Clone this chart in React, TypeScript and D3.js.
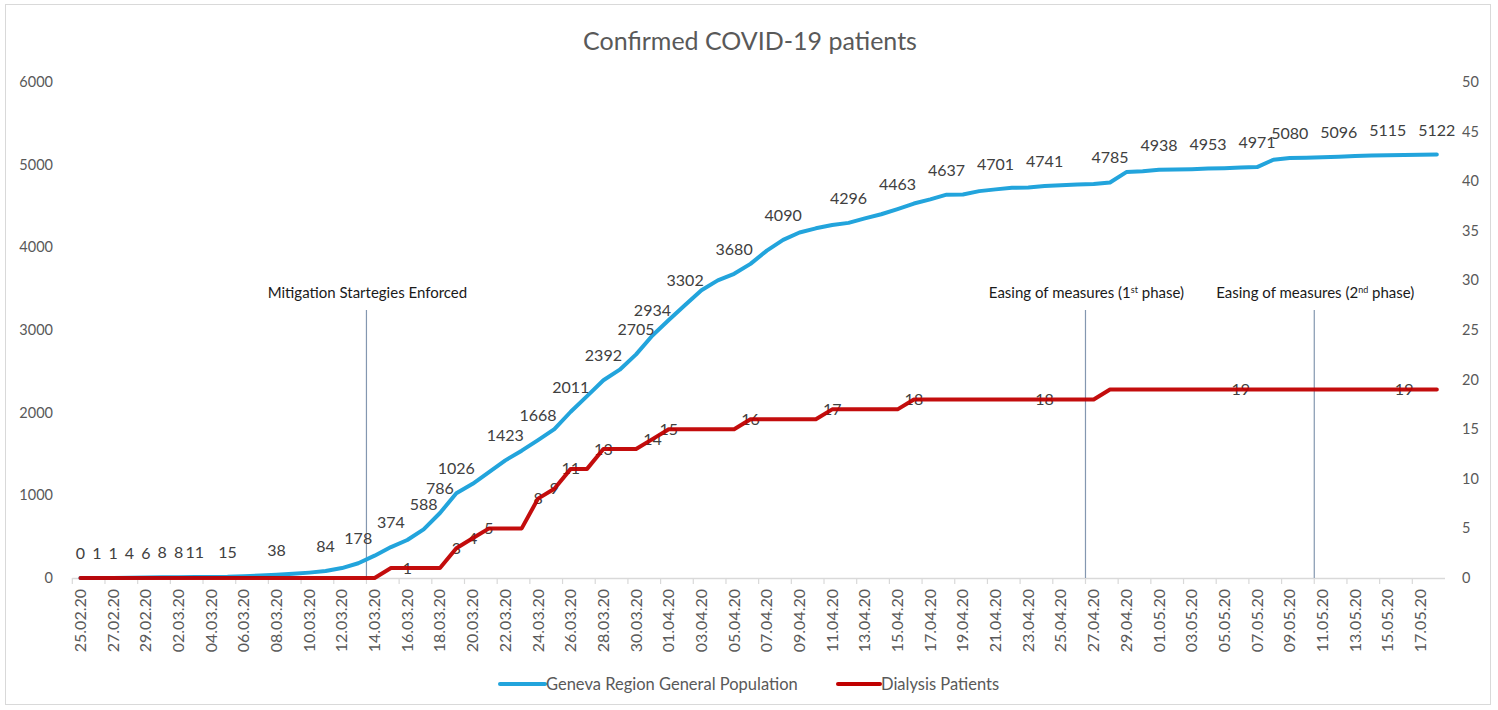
import React from 'react';
import * as d3 from 'd3';

// categories: one per day, 25.02.20 .. 18.05.20
const dates = d3.timeDay.range(new Date(2020, 1, 25), new Date(2020, 4, 19));
const fmt = d3.timeFormat('%d.%m.%y');

// Geneva region cumulative confirmed cases (left axis)
const geneva = [
  0, 1, 1, 4, 6, 8, 8, 11, 13, 15, 22, 30, 38, 50, 65, 84, 120, 178, 270, 374,
  460, 588, 786, 1026, 1140, 1280, 1423, 1540, 1668, 1800, 2011, 2200, 2392, 2520, 2705, 2934,
  3120, 3302, 3480, 3600, 3680, 3800, 3960, 4090, 4180, 4230, 4270, 4296, 4350, 4400, 4463,
  4530, 4580, 4637, 4640, 4680, 4701, 4720, 4725, 4741, 4750, 4760, 4765, 4785, 4910, 4920,
  4938, 4942, 4946, 4953, 4958, 4965, 4971, 5060, 5080, 5085, 5090, 5096, 5105, 5110, 5115,
  5118, 5120, 5122,
];

// dialysis patients (right axis)
const dialysis = [
  0, 0, 0, 0, 0, 0, 0, 0, 0, 0, 0, 0, 0, 0, 0, 0, 0, 0, 0, 1,
  1, 1, 1, 3, 4, 5, 5, 5, 8, 9, 11, 11, 13, 13, 13, 14,
  15, 15, 15, 15, 15, 16, 16, 16, 16, 16, 17, 17, 17, 17, 17,
  18, 18, 18, 18, 18, 18, 18, 18, 18, 18, 18, 18, 19, 19, 19,
  19, 19, 19, 19, 19, 19, 19, 19, 19, 19, 19, 19, 19, 19, 19,
  19, 19, 19,
];

// which points carry a data label
const genevaLabelIdx = [0, 1, 2, 3, 4, 5, 6, 7, 9, 12, 15, 17, 19, 21, 22, 23, 26, 28, 30, 32, 34, 35, 37, 40, 43, 47, 50, 53, 56, 59, 63, 66, 69, 72, 74, 77, 80, 83];
const dialysisLabelIdx = [20, 23, 24, 25, 28, 29, 30, 32, 35, 36, 41, 46, 51, 59, 71, 81];

const leftTicks = [0, 1000, 2000, 3000, 4000, 5000, 6000];
const rightTicks = [0, 5, 10, 15, 20, 25, 30, 35, 40, 45, 50];

// annotations: vertical line drawn at the left edge of the given day
const events = [
  { day: '14.03.20', label: ['Mitigation Startegies Enforced'] },
  { day: '27.04.20', label: ['Easing of measures (1', 'st', ' phase)'] },
  { day: '11.05.20', label: ['Easing of measures (2', 'nd', ' phase)'] },
];

const W = 1498;
const H = 710;
const font = 'Lato, "Open Sans", sans-serif';

export default function App() {
  const x = d3.scaleBand<string>()
    .domain(dates.map(d => fmt(d)))
    .range([72.3, 1445])
    .padding(0);
  const cx = (i: number) => (x(fmt(dates[i])) as number) + x.bandwidth() / 2;

  const yL = d3.scaleLinear().domain([0, 6000]).range([578, 82]);
  const yR = d3.scaleLinear().domain([0, 50]).range([578, 82]);

  const lineL = d3.line<number>().x((_, i) => cx(i)).y(d => yL(d));
  const lineR = d3.line<number>().x((_, i) => cx(i)).y(d => yR(d));

  const tickDays = dates.filter((_, i) => i % 2 === 0);

  return (
    <svg width={W} height={H} style={{ position: 'absolute', left: 0, top: 0, background: '#fff' }} fontFamily={font}>
      <rect x={5.5} y={4.5} width={1485} height={700} fill="#fff" stroke="#d9d9d9" />

      <text x={750} y={50} textAnchor="middle" fontSize={25} fill="#595959">Confirmed COVID-19 patients</text>

      {/* left axis */}
      {leftTicks.map(t => (
        <text key={'l' + t} x={53} y={yL(t) + 5} textAnchor="end" fontSize={14.5} fill="#595959">{t}</text>
      ))}
      {/* right axis */}
      {rightTicks.map(t => (
        <text key={'r' + t} x={1462} y={yR(t) + 5} textAnchor="start" fontSize={14.5} fill="#595959">{t}</text>
      ))}

      {/* category axis */}
      <line x1={72.3} x2={1445} y1={578.5} y2={578.5} stroke="#d9d9d9" strokeWidth={1.5} />
      {tickDays.map(d => {
        const x0 = x(fmt(d)) as number;
        return <line key={'t' + fmt(d)} x1={x0} x2={x0} y1={578} y2={584} stroke="#d9d9d9" strokeWidth={1.2} />;
      })}
      {tickDays.map(d => {
        const c = (x(fmt(d)) as number) + x.bandwidth() / 2;
        return (
          <text key={'x' + fmt(d)} transform={`translate(${c + 5.5},589) rotate(-90)`} textAnchor="end" fontSize={16} fill="#595959">
            {fmt(d)}
          </text>
        );
      })}

      {/* event markers */}
      {events.map(e => {
        const xe = x(e.day) as number;
        return (
          <g key={e.day}>
            <line x1={xe} x2={xe} y1={310} y2={578} stroke="#8497b0" strokeWidth={1.2} />
            <text x={xe + 1} y={298} textAnchor="middle" fontSize={15} fill="#1a1a1a">
              {e.label[0]}
              {e.label[1] && <tspan dy={-5} fontSize={9}>{e.label[1]}</tspan>}
              {e.label[2] && <tspan dy={5}>{e.label[2]}</tspan>}
            </text>
          </g>
        );
      })}

      {/* dialysis labels sit under the line */}
      {dialysisLabelIdx.map(i => (
        <text key={'dl' + i} x={cx(i)} y={yR(dialysis[i]) + 5.5} textAnchor="middle" fontSize={16} fill="#404040">{dialysis[i]}</text>
      ))}

      <path d={lineL(geneva) as string} fill="none" stroke="#22a4dc" strokeWidth={4} strokeLinejoin="round" strokeLinecap="round" />
      <path d={lineR(dialysis) as string} fill="none" stroke="#c00000" strokeWidth={4} strokeLinejoin="round" strokeLinecap="round" opacity={0.95} />

      {genevaLabelIdx.map(i => (
        <text key={'gl' + i} x={cx(i)} y={yL(geneva[i]) - 19} textAnchor="middle" fontSize={16} fill="#404040">{geneva[i]}</text>
      ))}

      {/* legend */}
      <line x1={500} x2={545} y1={684} y2={684} stroke="#22a4dc" strokeWidth={4} strokeLinecap="round" />
      <text x={546} y={690} fontSize={16.5} fill="#595959">Geneva Region General Population</text>
      <line x1={838} x2={880} y1={684} y2={684} stroke="#c00000" strokeWidth={4} strokeLinecap="round" />
      <text x={881} y={690} fontSize={16.5} fill="#595959">Dialysis Patients</text>
    </svg>
  );
}
